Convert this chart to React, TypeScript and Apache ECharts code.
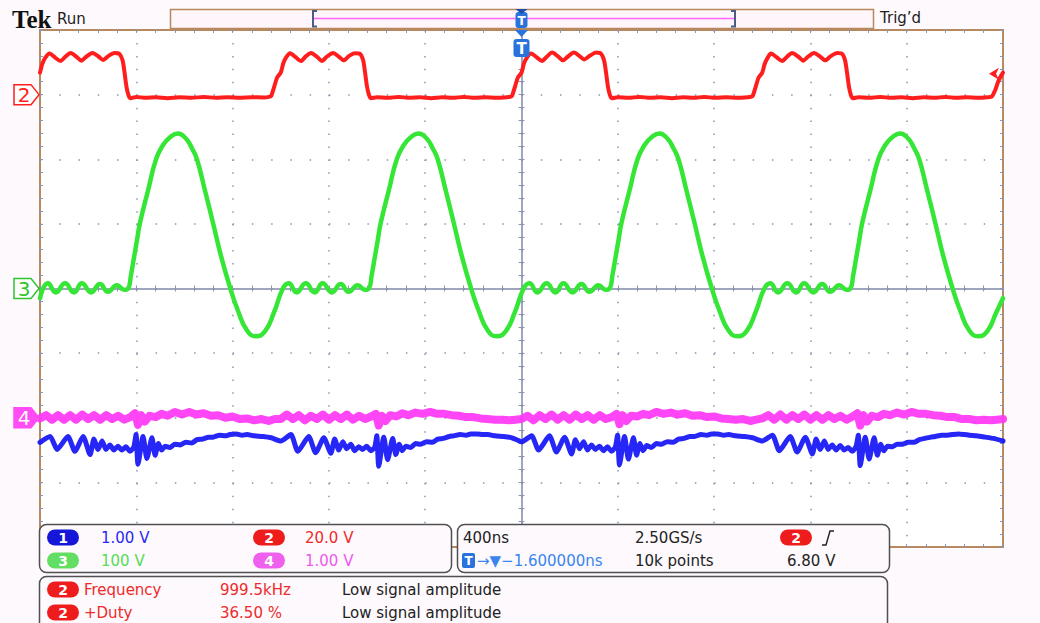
import React, { useEffect, useRef } from "react";
import * as echarts from "echarts";

// ---------- horizontal / vertical graticule (10 x 8 divisions) ----------
const TIME_MIN_NS = -2000;
const TIME_MAX_NS = 2000;
const TIME_PER_DIV_NS = 400;
const DIV_MIN = -4;
const DIV_MAX = 4;

// ---------- channel setup ----------
const CH_IDS = ["1", "2", "3", "4"];
const CH_VOLTS_PER_DIV = [1, 20, 100, 1];
const CH_GROUND_DIV = [-2, 3, 0, -2];
const CH_SCALE_LABELS = ["1.00 V", "20.0 V", "100 V", "1.00 V"];

// ---------- horizontal / trigger readouts ----------
const TIMEBASE_LABEL = "400ns";
const SAMPLE_RATE_LABEL = "2.50GS/s";
const RECORD_LENGTH_LABEL = "10k points";
const TRIGGER_DELAY_LABEL = "→▼−1.600000ns";
const TRIGGER_LEVEL_LABEL = "6.80 V";
const TRIGGER_LEVEL_V = 6.8;
const TRIGGER_SOURCE = "2";

// ---------- measurements ----------
const MEAS_SOURCE = ["2", "2"];
const MEAS_NAMES = ["Frequency", "+Duty"];
const MEAS_VALUES = ["999.5kHz", "36.50 %"];
const MEAS_STATUS = ["Low signal amplitude", "Low signal amplitude"];

// ---------- waveforms: [time ns, volts] ----------
const CH2_TRACE: number[][] = [
  [-2000, 6.8], [-1990, 9.6], [-1977, 11.5], [-1961, 12.7], [-1936, 11.4], [-1915, 10.4], [-1894, 11.8], [-1873, 12.9], [-1848, 11.7], [-1828, 10.5], [-1807, 11.8], [-1782, 12.9], [-1757, 11.8], [-1738, 10.7], [-1715, 12.0], [-1691, 12.9], [-1670, 12.6], [-1657, 10.6], [-1649, 6.9], [-1641, 2.5], [-1632, -0.3], [-1624, -1.1],
  [-1600, -0.7], [-1560, -1.0], [-1520, -0.8], [-1470, -1.1], [-1420, -0.8], [-1370, -1.0], [-1320, -0.7], [-1270, -1.0], [-1220, -0.8], [-1170, -1.0], [-1120, -0.8], [-1070, -0.9], [-1045, -0.6],
  [-1039, -0.3], [-1027, 2.5], [-1015, 5.3], [-1000, 6.8], [-989, 9.8], [-977, 11.6], [-962, 12.8], [-937, 11.5], [-916, 10.4], [-895, 11.9], [-874, 12.9], [-849, 11.7], [-829, 10.4], [-808, 11.8], [-783, 12.9], [-758, 11.7], [-739, 10.6], [-716, 12.0], [-692, 12.8], [-671, 12.6], [-658, 10.7], [-650, 7.0], [-642, 2.6], [-633, -0.2], [-625, -1.1],
  [-600, -0.8], [-555, -1.0], [-510, -0.7], [-465, -1.0], [-420, -0.8], [-375, -1.1], [-330, -0.8], [-285, -1.0], [-240, -0.7], [-195, -1.0], [-150, -0.8], [-105, -1.0], [-60, -0.8], [-45, -0.6],
  [-39, -0.3], [-27, 2.5], [-15, 5.3], [0, 6.8], [10, 9.6], [23, 11.5], [39, 12.7], [64, 11.5], [85, 10.4], [106, 11.8], [127, 13.0], [152, 11.8], [172, 10.6], [193, 11.8], [218, 13.0], [243, 11.8], [260, 10.9], [285, 12.1], [309, 13.0], [330, 12.7], [343, 10.6], [351, 6.9], [359, 2.5], [368, -0.3], [376, -1.1],
  [400, -0.8], [445, -1.0], [490, -0.7], [535, -1.0], [580, -0.8], [625, -1.1], [670, -0.8], [715, -1.0], [760, -0.7], [805, -1.0], [850, -0.8], [895, -1.0], [940, -0.8], [955, -0.6],
  [961, -0.3], [973, 2.5], [985, 5.3], [1000, 6.8], [1010, 9.5], [1024, 11.6], [1036, 12.7], [1061, 11.5], [1083, 10.4], [1104, 11.8], [1124, 12.9], [1149, 11.8], [1170, 10.5], [1191, 11.8], [1215, 12.9], [1240, 11.8], [1261, 10.6], [1286, 12.0], [1312, 12.9], [1332, 12.6], [1344, 10.6], [1352, 6.9], [1360, 2.5], [1369, -0.3], [1377, -1.1],
  [1400, -0.8], [1445, -1.0], [1490, -0.7], [1535, -1.0], [1580, -0.8], [1625, -1.1], [1670, -0.8], [1715, -1.0], [1760, -0.7], [1805, -1.0], [1850, -0.8], [1895, -1.0], [1935, -0.8], [1954, -0.55], [1967, 1.3], [1979, 3.8], [1988, 5.3], [2000, 6.8],
];

const CH3_TRACE: number[][] = [
  [-2000, -15], [-1967, 8], [-1934, -6], [-1896, 8], [-1859, -6], [-1826, 8], [-1788, -6], [-1751, 7], [-1718, -5], [-1680, 5], [-1651, -2], [-1634, 0],
  [-1622, 21], [-1610, 47], [-1597, 75], [-1585, 101], [-1551, 152], [-1518, 200], [-1489, 222], [-1460, 234], [-1427, 240], [-1394, 232], [-1369, 217], [-1348, 200], [-1315, 152], [-1281, 101], [-1248, 50], [-1211, 2], [-1178, -34], [-1140, -65], [-1103, -74], [-1065, -66], [-1028, -37], [-991, 0],
  [-967, 8], [-934, -6], [-896, 8], [-859, -6], [-826, 8], [-788, -6], [-751, 7], [-718, -5], [-680, 5], [-651, -2], [-634, 0],
  [-622, 21], [-610, 47], [-597, 75], [-585, 101], [-551, 152], [-518, 200], [-489, 222], [-460, 234], [-427, 240], [-394, 232], [-369, 217], [-348, 200], [-315, 152], [-281, 101], [-248, 50], [-211, 2], [-178, -34], [-140, -65], [-103, -74], [-65, -66], [-28, -37], [9, 0],
  [33, 8], [66, -6], [104, 8], [141, -6], [174, 8], [212, -6], [249, 7], [282, -5], [320, 5], [349, -2], [366, 0],
  [378, 21], [390, 47], [403, 75], [415, 101], [449, 152], [482, 200], [511, 222], [540, 234], [573, 240], [606, 232], [631, 217], [652, 200], [685, 152], [719, 101], [752, 50], [789, 2], [822, -34], [860, -65], [897, -74], [935, -66], [972, -37], [1009, 0],
  [1033, 8], [1066, -6], [1104, 8], [1141, -6], [1174, 8], [1212, -6], [1249, 7], [1282, -5], [1320, 5], [1349, -2], [1366, 0],
  [1378, 21], [1390, 47], [1403, 75], [1415, 101], [1449, 152], [1482, 200], [1511, 222], [1540, 234], [1573, 240], [1606, 232], [1631, 217], [1652, 200], [1685, 152], [1719, 101], [1752, 50], [1789, 2], [1822, -34], [1860, -65], [1897, -74], [1935, -66], [1972, -37], [2000, -15],
];

const CH1_TRACE: number[][] = [
  [-2000, -0.38], [-1958, -0.29], [-1929, -0.49], [-1884, -0.29], [-1855, -0.52], [-1821, -0.29], [-1792, -0.57], [-1776, -0.33], [-1759, -0.49], [-1742, -0.36], [-1726, -0.49], [-1709, -0.42], [-1693, -0.50], [-1676, -0.44], [-1660, -0.50], [-1643, -0.45], [-1626, -0.52], [-1610, -0.45], [-1601, -0.26], [-1593, -0.72], [-1572, -0.29], [-1556, -0.63], [-1535, -0.31], [-1522, -0.58], [-1508, -0.40], [-1495, -0.50], [-1480, -0.44], [-1460, -0.46], [-1440, -0.41], [-1418, -0.42], [-1395, -0.38], [-1370, -0.39], [-1348, -0.34], [-1325, -0.33], [-1300, -0.30], [-1281, -0.30], [-1255, -0.27], [-1230, -0.28], [-1211, -0.26], [-1185, -0.25], [-1160, -0.27], [-1140, -0.26], [-1110, -0.28], [-1074, -0.29], [-1040, -0.31],
  [-1000, -0.36], [-958, -0.26], [-929, -0.52], [-884, -0.29], [-855, -0.54], [-821, -0.31], [-792, -0.55], [-776, -0.33], [-759, -0.50], [-742, -0.37], [-726, -0.48], [-709, -0.41], [-693, -0.51], [-676, -0.45], [-660, -0.49], [-643, -0.44], [-626, -0.51], [-610, -0.46], [-601, -0.28], [-593, -0.75], [-572, -0.30], [-556, -0.65], [-535, -0.32], [-522, -0.57], [-508, -0.41], [-495, -0.51], [-480, -0.44], [-460, -0.46], [-440, -0.40], [-418, -0.41], [-395, -0.37], [-370, -0.38], [-348, -0.33], [-325, -0.32], [-300, -0.29], [-281, -0.28], [-255, -0.26], [-230, -0.27], [-211, -0.25], [-185, -0.25], [-160, -0.26], [-140, -0.26], [-110, -0.28], [-74, -0.29], [-40, -0.31],
  [0, -0.37], [42, -0.28], [71, -0.50], [116, -0.28], [145, -0.53], [179, -0.30], [208, -0.56], [224, -0.34], [241, -0.48], [258, -0.37], [274, -0.50], [291, -0.42], [307, -0.49], [324, -0.44], [340, -0.51], [357, -0.45], [374, -0.52], [390, -0.45], [399, -0.27], [407, -0.73], [428, -0.29], [444, -0.64], [465, -0.31], [478, -0.58], [492, -0.40], [505, -0.51], [520, -0.43], [540, -0.46], [560, -0.40], [582, -0.41], [605, -0.37], [630, -0.38], [652, -0.33], [675, -0.32], [700, -0.29], [719, -0.29], [745, -0.26], [770, -0.27], [789, -0.25], [815, -0.25], [840, -0.27], [860, -0.26], [890, -0.28], [926, -0.29], [960, -0.31],
  [1000, -0.36], [1042, -0.27], [1071, -0.51], [1116, -0.29], [1145, -0.53], [1179, -0.30], [1208, -0.56], [1224, -0.33], [1241, -0.49], [1258, -0.36], [1274, -0.49], [1291, -0.42], [1307, -0.50], [1324, -0.43], [1340, -0.50], [1357, -0.46], [1374, -0.52], [1390, -0.44], [1399, -0.27], [1407, -0.74], [1428, -0.30], [1444, -0.64], [1465, -0.31], [1478, -0.58], [1492, -0.41], [1505, -0.51], [1520, -0.44], [1540, -0.45], [1560, -0.41], [1582, -0.41], [1605, -0.38], [1630, -0.38], [1652, -0.34], [1675, -0.32], [1700, -0.30], [1719, -0.29], [1745, -0.27], [1770, -0.27], [1789, -0.26], [1815, -0.25], [1840, -0.26], [1860, -0.27], [1890, -0.28], [1926, -0.30], [1960, -0.32], [2000, -0.36],
];

const CH4_TRACE: number[][] = [
  [-2000, -0.01], [-1975, 0.04], [-1950, -0.03], [-1925, 0.04], [-1900, -0.03], [-1875, 0.04], [-1850, -0.03], [-1825, 0.05], [-1800, -0.02], [-1775, 0.04], [-1750, -0.03], [-1725, 0.04], [-1700, -0.02], [-1675, 0.03], [-1650, -0.03], [-1625, 0.01], [-1605, 0.07], [-1593, -0.11], [-1580, 0.04], [-1565, -0.06], [-1545, 0.03], [-1520, 0.01], [-1495, 0.06], [-1470, 0.03], [-1440, 0.09], [-1410, 0.05], [-1380, 0.09], [-1350, 0.05], [-1320, 0.07], [-1290, 0.03], [-1260, 0.04], [-1230, 0.00], [-1200, 0.02], [-1170, -0.02], [-1140, -0.01], [-1110, -0.04], [-1080, -0.02], [-1050, -0.05], [-1025, -0.02],
  [-1000, -0.02], [-975, 0.05], [-950, -0.02], [-925, 0.04], [-900, -0.04], [-875, 0.03], [-850, -0.02], [-825, 0.05], [-800, -0.03], [-775, 0.04], [-750, -0.02], [-725, 0.05], [-700, -0.03], [-675, 0.03], [-650, -0.02], [-625, 0.02], [-605, 0.06], [-593, -0.12], [-580, 0.03], [-565, -0.05], [-545, 0.04], [-520, 0.02], [-495, 0.07], [-470, 0.04], [-440, 0.08], [-410, 0.06], [-380, 0.09], [-350, 0.06], [-320, 0.06], [-290, 0.04], [-260, 0.03], [-230, 0.01], [-200, 0.01], [-170, -0.01], [-140, -0.02], [-110, -0.03], [-80, -0.03], [-50, -0.04], [-25, -0.03],
  [0, -0.02], [25, 0.03], [50, -0.04], [75, 0.04], [100, -0.02], [125, 0.05], [150, -0.03], [175, 0.04], [200, -0.03], [225, 0.05], [250, -0.02], [275, 0.04], [300, -0.03], [325, 0.04], [350, -0.02], [375, 0.01], [395, 0.06], [407, -0.10], [420, 0.04], [435, -0.05], [455, 0.03], [480, 0.02], [505, 0.06], [530, 0.04], [560, 0.09], [590, 0.06], [620, 0.08], [650, 0.05], [680, 0.07], [710, 0.03], [740, 0.04], [770, 0.01], [800, 0.02], [830, -0.01], [860, -0.02], [890, -0.03], [920, -0.02], [950, -0.05], [975, -0.03],
  [1000, -0.01], [1025, 0.04], [1050, -0.03], [1075, 0.05], [1100, -0.03], [1125, 0.04], [1150, -0.02], [1175, 0.05], [1200, -0.03], [1225, 0.04], [1250, -0.03], [1275, 0.04], [1300, -0.02], [1325, 0.03], [1350, -0.03], [1375, 0.02], [1395, 0.07], [1407, -0.12], [1420, 0.04], [1435, -0.06], [1455, 0.03], [1480, 0.01], [1505, 0.06], [1530, 0.04], [1560, 0.08], [1590, 0.05], [1620, 0.09], [1650, 0.06], [1680, 0.06], [1710, 0.04], [1740, 0.03], [1770, 0.01], [1800, 0.01], [1830, -0.02], [1860, -0.02], [1890, -0.04], [1920, -0.03], [1950, -0.04], [1975, -0.03], [2000, -0.02],
];

// ---------- styling ----------
const PAGE_BG = "#fdf9fc";
const FONT = "'DejaVu Sans', 'Noto Sans', sans-serif";
const TRACE_COLORS = ["#1a1af5", "#ff1e1e", "#36e636", "#ff36f5"];
const BADGE_COLORS = ["#1616d8", "#ee1c1c", "#62de62", "#f060ee"];
const LABEL_COLORS = ["#2a2af0", "#ee2a2a", "#56dc56", "#ee5aee"];
const FRAME_COLOR = "#b8895e";
const DOT_COLOR = "#8c94b2";
const CENTER_COLOR = "#7f88a8";
const T_BLUE = "#2a72dc";

function toDivisions(trace: number[][], ch: number) {
  return trace.map(([t, v]) => [t, CH_GROUND_DIV[ch] + v / CH_VOLTS_PER_DIV[ch]]);
}

function text(x: number, y: number, s: string, fill: string, size = 15, align = "left", extra: any = {}) {
  return {
    type: "text",
    x,
    y,
    z: 120,
    silent: true,
    style: {
      text: s,
      fill,
      font: `${size}px ${FONT}`,
      align,
      textAlign: align,
      verticalAlign: "middle",
      textVerticalAlign: "middle",
      ...extra,
    },
  };
}

function pill(x: number, y: number, color: string, label: string) {
  return {
    type: "group",
    x,
    y,
    z: 120,
    children: [
      { type: "rect", z: 120, shape: { x: 0, y: 0, width: 32, height: 16, r: 8 }, style: { fill: color } },
      {
        type: "text",
        z: 121,
        x: 16,
        y: 8.5,
        style: {
          text: label,
          fill: "#ffffff",
          font: `bold 14px ${FONT}`,
          align: "center",
          textAlign: "center",
          verticalAlign: "middle",
          textVerticalAlign: "middle",
        },
      },
    ],
  };
}

function panel(x: number, y: number, w: number, h: number) {
  return {
    type: "rect",
    z: 110,
    shape: { x, y, width: w, height: h, r: 7 },
    style: { fill: PAGE_BG, stroke: "#505050", lineWidth: 1.5 },
  };
}

function channelMarker(cy: number, color: string, label: string, filled: boolean) {
  return {
    type: "group",
    x: 14,
    y: cy,
    z: 120,
    children: [
      {
        type: "polygon",
        z: 120,
        shape: { points: [[0, -10], [17, -10], [25, 0], [17, 10], [0, 10]] },
        style: { fill: filled ? color : "#ffffff", stroke: color, lineWidth: 1.5 },
      },
      {
        type: "text",
        z: 121,
        x: 10,
        y: 0.5,
        style: {
          text: label,
          fill: filled ? "#ffffff" : color,
          font: `20px ${FONT}`,
          align: "center",
          textAlign: "center",
          verticalAlign: "middle",
          textVerticalAlign: "middle",
        },
      },
    ],
  };
}

function buildAxes() {
  const tick = { color: DOT_COLOR, width: 1 };
  const baseX = {
    type: "value",
    min: TIME_MIN_NS,
    max: TIME_MAX_NS,
    interval: TIME_PER_DIV_NS,
    axisLabel: { show: false },
    splitLine: { show: false },
    minorTick: { show: true, splitNumber: 5, length: 3, lineStyle: tick },
  };
  const baseY = {
    type: "value",
    min: DIV_MIN,
    max: DIV_MAX,
    interval: 1,
    axisLabel: { show: false },
    splitLine: { show: false },
    minorTick: { show: true, splitNumber: 5, length: 3, lineStyle: tick },
  };
  const xAxis = [
    {
      ...baseX,
      position: "bottom",
      axisLine: { show: false, onZero: false },
      axisTick: { show: true, inside: true, length: 3, lineStyle: tick },
      splitLine: { show: true, lineStyle: { color: DOT_COLOR, width: 1.5, type: [1.5, 11.44] } },
    },
    { ...baseX, position: "top", axisLine: { show: false, onZero: false }, axisTick: { show: true, inside: true, length: 3, lineStyle: tick } },
    {
      ...baseX,
      position: "bottom",
      axisLine: { show: true, onZero: true, onZeroAxisIndex: 0, lineStyle: { color: CENTER_COLOR, width: 1.5 } },
      axisTick: { show: true, length: 3, lineStyle: tick },
    },
    { ...baseX, position: "top", axisLine: { show: false, onZero: true, onZeroAxisIndex: 0 }, axisTick: { show: true, length: 3, lineStyle: tick } },
  ];
  const yAxis = [
    {
      ...baseY,
      position: "left",
      axisLine: { show: false, onZero: false },
      axisTick: { show: true, inside: true, length: 3, lineStyle: tick },
      splitLine: { show: true, lineStyle: { color: DOT_COLOR, width: 1.5, type: [1.5, 17.76] } },
    },
    { ...baseY, position: "right", axisLine: { show: false, onZero: false }, axisTick: { show: true, inside: true, length: 3, lineStyle: tick } },
    {
      ...baseY,
      position: "left",
      axisLine: { show: true, onZero: true, onZeroAxisIndex: 0, lineStyle: { color: CENTER_COLOR, width: 1.5 } },
      axisTick: { show: true, length: 3, lineStyle: tick },
    },
    { ...baseY, position: "right", axisLine: { show: false, onZero: true, onZeroAxisIndex: 0 }, axisTick: { show: true, length: 3, lineStyle: tick } },
  ];
  return { xAxis, yAxis };
}

function buildSeries() {
  const traces = [CH1_TRACE, CH2_TRACE, CH3_TRACE, CH4_TRACE];
  const widths = [5, 4, 4.5, 8];
  const smooth = [0.2, 0.25, 0.5, false];
  const opacity = [0.95, 1, 1, 0.92];
  const zs = [3, 6, 5, 4];
  return traces.map((tr, ch) => ({
    type: "line",
    name: "CH" + CH_IDS[ch],
    xAxisIndex: 0,
    yAxisIndex: 0,
    data: toDivisions(tr, ch),
    symbol: "none",
    showSymbol: false,
    smooth: smooth[ch],
    silent: true,
    z: zs[ch],
    lineStyle: { color: TRACE_COLORS[ch], width: widths[ch], opacity: opacity[ch], cap: "round", join: "round" },
  }));
}

function buildGraphic(chart: any) {
  const px = (t: number, div: number) => chart.convertToPixel({ xAxisIndex: 0, yAxisIndex: 0 }, [t, div]);
  const cx = px(0, 0)[0];
  const groundY = CH_GROUND_DIV.map((d) => px(TIME_MIN_NS, d)[1]);
  const trigY = px(TIME_MAX_NS, CH_GROUND_DIV[1] + TRIGGER_LEVEL_V / CH_VOLTS_PER_DIV[1])[1];
  const rightX = px(TIME_MAX_NS, 0)[0];

  const els: any[] = [];
  // header
  els.push({
    type: "text",
    x: 12,
    y: 19,
    z: 120,
    style: { text: "Tek", fill: "#111111", font: "bold 25px 'Liberation Serif', 'DejaVu Serif', serif", verticalAlign: "middle", textVerticalAlign: "middle" },
  });
  els.push(text(57, 19, "Run", "#222222", 15));
  els.push(text(880, 18, "Trig’d", "#222222", 15));
  // record view bar
  els.push({ type: "rect", z: 100, shape: { x: 170.5, y: 9.5, width: 703, height: 19 }, style: { fill: "#fef6fa", stroke: FRAME_COLOR, lineWidth: 1.5 } });
  els.push({ type: "line", z: 101, shape: { x1: 313, y1: 18.5, x2: 735, y2: 18.5 }, style: { stroke: "#ff66ff", lineWidth: 1.5 } });
  els.push({ type: "polyline", z: 102, shape: { points: [[317, 11], [313, 11], [313, 26.5], [317, 26.5]] }, style: { stroke: "#4b5b86", lineWidth: 2, fill: null } });
  els.push({ type: "polyline", z: 102, shape: { points: [[731, 11], [735, 11], [735, 26.5], [731, 26.5]] }, style: { stroke: "#4b5b86", lineWidth: 2, fill: null } });
  // trigger position marker in record bar
  els.push({ type: "rect", z: 103, shape: { x: cx - 6, y: 12, width: 12, height: 16, r: 3 }, style: { fill: T_BLUE } });
  els.push({ type: "polygon", z: 104, shape: { points: [[cx - 6, 9], [cx + 6, 9], [cx, 14]] }, style: { fill: "#1b4fa8" } });
  els.push({
    type: "text", x: cx, y: 21, z: 105,
    style: { text: "T", fill: "#ffffff", font: `bold 12px ${FONT}`, align: "center", textAlign: "center", verticalAlign: "middle", textVerticalAlign: "middle" },
  });
  // trigger position on screen
  els.push({ type: "polygon", z: 103, shape: { points: [[cx - 6.5, 30], [cx + 6.5, 30], [cx, 37]] }, style: { fill: T_BLUE } });
  els.push({ type: "rect", z: 103, shape: { x: cx - 8, y: 39, width: 16, height: 18, r: 3 }, style: { fill: T_BLUE } });
  els.push({
    type: "text", x: cx, y: 48.5, z: 105,
    style: { text: "T", fill: "#ffffff", font: `bold 15px ${FONT}`, align: "center", textAlign: "center", verticalAlign: "middle", textVerticalAlign: "middle" },
  });
  // trigger level marker (right edge)
  els.push({
    type: "polygon", z: 103,
    shape: { points: [[rightX - 14, trigY + 1], [rightX - 4, trigY - 5], [rightX - 7, trigY + 1], [rightX - 4, trigY + 7]] },
    style: { fill: TRACE_COLORS[1] },
  });
  // channel ground markers
  els.push(channelMarker(groundY[1], TRACE_COLORS[1], CH_IDS[1], false));
  els.push(channelMarker(groundY[2], "#2ec42e", CH_IDS[2], false));
  els.push(channelMarker(groundY[3], "#ff4cf5", CH_IDS[3], true));

  // vertical readout panel
  els.push(panel(39.5, 524.5, 412, 48));
  const rowY = [537.5, 560.5];
  const colPill = [47, 253];
  const colText = [101, 305];
  [0, 1, 2, 3].forEach((ch) => {
    const r = ch < 2 ? 0 : 1;
    const c = ch % 2;
    els.push(pill(colPill[c], rowY[r] - 8, BADGE_COLORS[ch], CH_IDS[ch]));
    els.push(text(colText[c], rowY[r], CH_SCALE_LABELS[ch], LABEL_COLORS[ch]));
  });

  // horizontal / trigger panel
  els.push(panel(457.5, 524.5, 432, 48));
  els.push(text(463, rowY[0], TIMEBASE_LABEL, "#222222"));
  els.push(text(635, rowY[0], SAMPLE_RATE_LABEL, "#222222"));
  els.push(pill(780, rowY[0] - 8, BADGE_COLORS[1], TRIGGER_SOURCE));
  els.push({ type: "polyline", z: 121, shape: { points: [[822, 545], [826, 545], [830, 531], [834, 531]] }, style: { stroke: "#222222", lineWidth: 1.4, fill: null } });
  els.push({ type: "rect", z: 120, shape: { x: 462, y: 553, width: 13, height: 15, r: 2 }, style: { fill: T_BLUE } });
  els.push({
    type: "text", x: 468.5, y: 561, z: 121,
    style: { text: "T", fill: "#ffffff", font: `bold 12px ${FONT}`, align: "center", textAlign: "center", verticalAlign: "middle", textVerticalAlign: "middle" },
  });
  els.push(text(477, rowY[1], TRIGGER_DELAY_LABEL, "#3a86ee"));
  els.push(text(635, rowY[1], RECORD_LENGTH_LABEL, "#222222"));
  els.push(text(787, rowY[1], TRIGGER_LEVEL_LABEL, "#222222"));

  // measurement panel
  els.push(panel(39.5, 576.5, 848, 60));
  const mRow = [589.5, 612.5];
  MEAS_NAMES.forEach((name, i) => {
    els.push(pill(47, mRow[i] - 8, BADGE_COLORS[1], MEAS_SOURCE[i]));
    els.push(text(84, mRow[i], name, LABEL_COLORS[1]));
    els.push(text(220, mRow[i], MEAS_VALUES[i], LABEL_COLORS[1]));
    els.push(text(342, mRow[i], MEAS_STATUS[i], "#222222"));
  });
  return els;
}

export default function App() {
  const ref = useRef<HTMLDivElement>(null);
  useEffect(() => {
    if (!ref.current) return;
    const chart = echarts.init(ref.current, undefined, { renderer: "svg" });
    const { xAxis, yAxis } = buildAxes();
    chart.setOption({
      animation: false,
      backgroundColor: PAGE_BG,
      grid: {
        left: 40,
        top: 30,
        width: 963,
        height: 517,
        show: true,
        backgroundColor: "#ffffff",
        borderColor: FRAME_COLOR,
        borderWidth: 2,
      },
      xAxis,
      yAxis,
      series: buildSeries(),
    } as any);
    chart.setOption({ graphic: { elements: buildGraphic(chart) } } as any);
    return () => chart.dispose();
  }, []);
  return (
    <div style={{ position: "fixed", left: 0, top: 0, width: 1040, height: 623, background: PAGE_BG }}>
      <div ref={ref} style={{ width: 1040, height: 623 }} />
    </div>
  );
}
